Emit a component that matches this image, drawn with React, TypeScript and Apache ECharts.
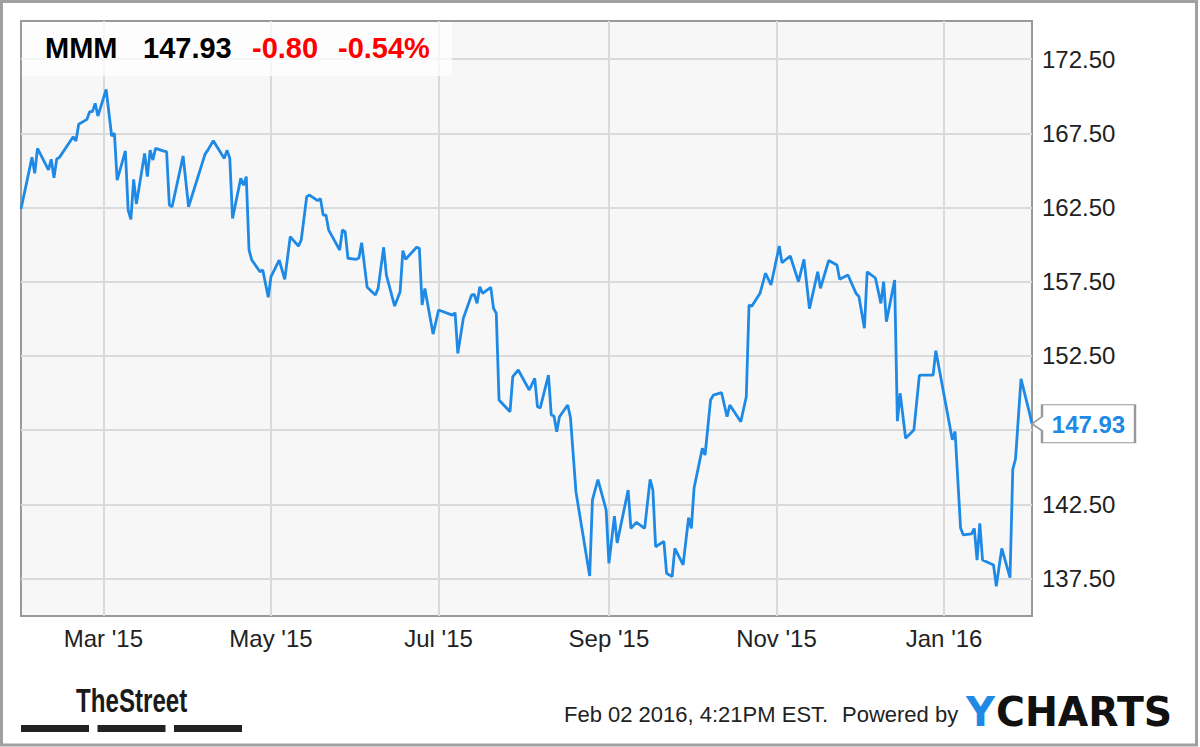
import React, { useEffect, useRef } from 'react';
import * as echarts from 'echarts';

// ---------- data ----------
const dates = [
  '2015-01-30','2015-02-03','2015-02-04','2015-02-05','2015-02-09','2015-02-10','2015-02-11','2015-02-12','2015-02-13',
  '2015-02-18','2015-02-19','2015-02-20','2015-02-23','2015-02-24','2015-02-25','2015-02-26','2015-02-27',
  '2015-03-02','2015-03-04','2015-03-05','2015-03-06','2015-03-09','2015-03-10','2015-03-11','2015-03-12','2015-03-13',
  '2015-03-16','2015-03-17','2015-03-18','2015-03-19','2015-03-20','2015-03-23','2015-03-24','2015-03-25','2015-03-26',
  '2015-03-30','2015-04-01','2015-04-07','2015-04-08','2015-04-10','2015-04-14','2015-04-15','2015-04-16','2015-04-17',
  '2015-04-20','2015-04-21','2015-04-22','2015-04-23','2015-04-24','2015-04-27','2015-04-28','2015-04-30',
  '2015-05-01','2015-05-04','2015-05-06','2015-05-08','2015-05-11','2015-05-12','2015-05-14','2015-05-15',
  '2015-05-18','2015-05-19','2015-05-20','2015-05-21','2015-05-22','2015-05-26','2015-05-27','2015-05-28','2015-05-29',
  '2015-06-01','2015-06-02','2015-06-03','2015-06-05','2015-06-08','2015-06-09','2015-06-11','2015-06-12',
  '2015-06-15','2015-06-17','2015-06-18','2015-06-19','2015-06-23','2015-06-24','2015-06-25','2015-06-26','2015-06-29',
  '2015-07-01','2015-07-06','2015-07-07','2015-07-08','2015-07-10','2015-07-13','2015-07-14','2015-07-15','2015-07-16',
  '2015-07-17','2015-07-20','2015-07-21','2015-07-22','2015-07-23','2015-07-27','2015-07-28','2015-07-30',
  '2015-08-03','2015-08-05','2015-08-06','2015-08-07','2015-08-10','2015-08-11','2015-08-12','2015-08-13','2015-08-14',
  '2015-08-17','2015-08-18','2015-08-20','2015-08-21','2015-08-25','2015-08-26','2015-08-28','2015-08-31',
  '2015-09-01','2015-09-03','2015-09-04','2015-09-08','2015-09-09','2015-09-11','2015-09-14','2015-09-16','2015-09-17',
  '2015-09-18','2015-09-21','2015-09-22','2015-09-24','2015-09-25','2015-09-28','2015-09-30',
  '2015-10-01','2015-10-02','2015-10-05','2015-10-06','2015-10-08','2015-10-09','2015-10-12','2015-10-14','2015-10-15',
  '2015-10-19','2015-10-21','2015-10-22','2015-10-23','2015-10-26','2015-10-28','2015-10-30',
  '2015-11-02','2015-11-03','2015-11-06','2015-11-09','2015-11-11','2015-11-13','2015-11-16','2015-11-17','2015-11-20',
  '2015-11-23','2015-11-24','2015-11-27','2015-11-30',
  '2015-12-01','2015-12-03','2015-12-04','2015-12-07','2015-12-09','2015-12-10','2015-12-11','2015-12-14','2015-12-15',
  '2015-12-16','2015-12-18','2015-12-21','2015-12-23','2015-12-24','2015-12-28','2015-12-29',
  '2016-01-04','2016-01-05','2016-01-07','2016-01-08','2016-01-11','2016-01-12','2016-01-13','2016-01-14','2016-01-15',
  '2016-01-19','2016-01-20','2016-01-22','2016-01-25','2016-01-26','2016-01-27','2016-01-29','2016-02-01','2016-02-02',
];

const prices = [
  162.40,165.88,164.80,166.49,165.03,165.75,164.51,165.77,165.88,
  167.27,166.98,168.11,168.44,168.96,168.96,169.52,168.67,
  170.46,167.32,167.50,164.35,166.31,162.33,161.70,164.40,162.74,
  166.15,164.58,166.37,165.70,166.49,166.30,166.26,162.67,162.55,
  165.97,162.55,166.10,166.37,167.00,165.81,166.37,165.81,161.77,
  164.47,164.00,164.58,159.64,158.96,158.17,158.29,156.45,
  157.84,158.96,157.66,160.53,159.90,160.31,163.23,163.34,
  162.96,163.10,161.99,161.99,160.98,159.64,160.98,160.87,159.08,
  159.01,159.10,160.13,157.12,156.60,157.05,159.82,157.95,
  155.86,156.83,159.59,159.01,159.82,159.75,155.93,157.05,153.97,
  155.59,155.25,155.41,152.67,155.03,156.60,156.65,156.04,157.16,
  156.72,157.12,155.70,155.37,149.53,148.74,151.10,151.55,
  150.20,150.99,149.07,149.00,151.21,148.52,148.45,147.39,148.40,
  149.19,148.35,143.35,142.20,137.67,142.79,144.16,142.11,
  138.52,141.70,139.90,143.46,140.88,141.28,140.88,144.18,143.46,
  139.64,140.00,137.85,137.62,139.53,138.41,141.60,
  140.88,143.60,146.27,145.82,149.53,149.86,150.02,148.40,149.19,
  148.06,149.75,155.93,155.85,156.72,158.07,157.28,
  159.90,158.78,159.23,157.50,159.01,155.68,158.17,157.05,158.93,
  158.62,157.66,157.95,156.70,
  156.50,154.36,158.17,157.75,156.04,157.50,154.80,157.61,148.10,
  149.98,146.95,147.50,151.19,151.20,151.21,152.85,
  146.85,147.40,140.90,140.43,140.50,140.88,138.74,141.22,138.74,
  138.41,136.97,139.53,137.55,144.85,145.55,150.95,148.73,147.93,
];

const monthTicks = ['2015-03-01', '2015-05-01', '2015-07-01', '2015-09-01', '2015-11-01', '2016-01-01'];
const priceTicks = [137.5, 142.5, 147.5, 152.5, 157.5, 162.5, 167.5, 172.5];
const xStart = '2015-01-30';
const xEnd = '2016-02-02';
const yMin = 134.97;
const yMax = 175.07;

const ticker = 'MMM';
const change = -0.8;
const changePct = -0.54;
const stampText = 'Feb 02 2016, 4:21PM EST.';
const MONTHS = ['Jan', 'Feb', 'Mar', 'Apr', 'May', 'Jun', 'Jul', 'Aug', 'Sep', 'Oct', 'Nov', 'Dec'];

// ---------- helpers ----------
function ts(s: string): number {
  const [y, m, d] = s.split('-').map(Number);
  return Date.UTC(y, m - 1, d);
}

const FONT = '"Liberation Sans", Arial, Helvetica, sans-serif';
const BLUE = '#1f8ae6';

function txt(text: string, x: number, y: number, fontSize: number, fill: string, weight = 'normal', family = FONT, extra: any = {}) {
  return {
    type: 'text',
    x,
    y,
    silent: true,
    ...extra,
    style: {
      text,
      fill,
      fontSize,
      fontWeight: weight,
      fontFamily: family,
      align: 'left',
      textAlign: 'left',
      verticalAlign: 'middle',
      textVerticalAlign: 'middle',
    },
  };
}

export default function App() {
  const ref = useRef<HTMLDivElement>(null);

  useEffect(() => {
    if (!ref.current) return;
    const chart = echarts.init(ref.current, null, { renderer: 'svg' });

    const seriesData = dates.map((d, i) => [ts(d), prices[i]]);
    const lastIdx = prices.length - 1;
    const lastPrice = prices[lastIdx];
    const monthVals = monthTicks.map(ts);

    const option: any = {
      animation: false,
      backgroundColor: '#ffffff',
      grid: {
        left: 21,
        top: 21,
        width: 1011,
        height: 595,
        show: true,
        backgroundColor: '#f7f7f7',
        borderColor: '#9a9a9a',
        borderWidth: 2,
      },
      xAxis: {
        type: 'value',
        min: ts(xStart),
        max: ts(xEnd),
        axisLine: { show: false },
        axisTick: { show: false, customValues: monthVals },
        axisLabel: {
          customValues: monthVals,
          fontSize: 24,
          fontFamily: FONT,
          color: '#222',
          margin: 10,
          formatter: (v: number) => {
            const d = new Date(v);
            return MONTHS[d.getUTCMonth()] + " '" + String(d.getUTCFullYear()).slice(2);
          },
        },
        splitLine: { show: true, lineStyle: { color: '#dadada', width: 2 } },
      },
      yAxis: {
        type: 'value',
        position: 'right',
        min: yMin,
        max: yMax,
        axisLine: { show: false },
        axisTick: { show: false, customValues: priceTicks },
        axisLabel: {
          customValues: priceTicks,
          fontSize: 24,
          fontFamily: FONT,
          color: '#222',
          margin: 10,
          // the last-price tag covers the tick label next to it
          formatter: (v: number) => (Math.abs(v - lastPrice) < 2 ? '' : v.toFixed(2)),
        },
        splitLine: { show: true, lineStyle: { color: '#dadada', width: 2 } },
      },
      series: [
        {
          type: 'line',
          data: seriesData,
          showSymbol: false,
          symbol: 'none',
          lineStyle: { color: BLUE, width: 2.8 },
          z: 3,
          markPoint: {
            silent: true,
            symbol: 'path://M10,0 L103,0 L103,38 L10,38 L10,26 L0,19 L10,12 Z',
            symbolSize: [103, 38],
            symbolOffset: [51.5, 0],
            symbolKeepAspect: false,
            itemStyle: { color: '#ffffff', borderColor: '#999999', borderWidth: 1.5 },
            label: {
              show: true,
              position: 'inside',
              offset: [5, 1],
              color: BLUE,
              fontSize: 24,
              fontWeight: 'bold',
              fontFamily: FONT,
              formatter: (p: any) => Number(p.value).toFixed(2),
            },
            data: [{ coord: [ts(dates[lastIdx]), lastPrice], value: lastPrice }],
          },
        },
      ],
      graphic: [
        {
          type: 'rect',
          silent: true,
          shape: { x: 1.5, y: 1.5, width: 1195, height: 743.5 },
          style: { fill: 'none', stroke: '#a0a0a0', lineWidth: 3 },
          z: 10,
        },
        {
          type: 'rect',
          silent: true,
          shape: { x: 22, y: 22, width: 430, height: 54 },
          style: { fill: 'rgba(255,255,255,0.72)' },
          z: 10,
        },
        { ...txt(ticker, 45, 48, 29, '#000', 'bold'), z: 11 },
        { ...txt(lastPrice.toFixed(2), 143, 48, 29, '#000', 'bold'), z: 11 },
        { ...txt(change.toFixed(2), 252, 48, 29, '#ff0000', 'bold'), z: 11 },
        { ...txt(changePct.toFixed(2) + '%', 338, 48, 29, '#ff0000', 'bold'), z: 11 },
        { ...txt('TheStreet', 76, 699.5, 34, '#1a1a1a', 'bold', FONT, { scaleX: 0.71 }), z: 11 },
        { type: 'rect', silent: true, shape: { x: 21, y: 725, width: 68, height: 7 }, style: { fill: '#222' }, z: 11 },
        { type: 'rect', silent: true, shape: { x: 97.5, y: 725, width: 68, height: 7 }, style: { fill: '#222' }, z: 11 },
        { type: 'rect', silent: true, shape: { x: 174, y: 725, width: 68, height: 7 }, style: { fill: '#222' }, z: 11 },
        { ...txt(stampText, 564, 714, 22, '#222'), z: 11 },
        { ...txt('Powered by', 842, 714, 22, '#222'), z: 11 },
        { ...txt('Y', 966, 712, 40, BLUE, 'bold', '"DejaVu Sans", sans-serif'), z: 11 },
        { ...txt('CHARTS', 996, 712, 40, '#111', 'bold', '"DejaVu Sans", sans-serif', { scaleX: 0.985 }), z: 11 },
      ],
    };

    chart.setOption(option);
    return () => chart.dispose();
  }, []);

  return (
    <div
      ref={ref}
      style={{ position: 'fixed', left: 0, top: 0, width: 1200, height: 747, background: '#fff' }}
    />
  );
}
